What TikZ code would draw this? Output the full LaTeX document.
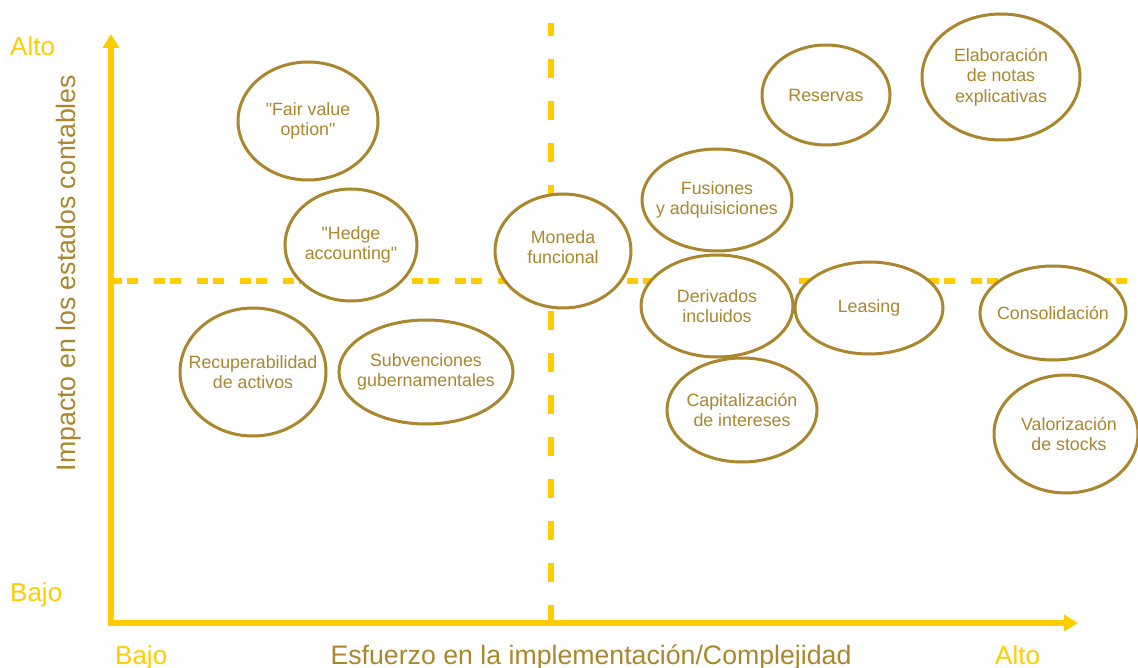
\documentclass[tikz,border=0pt]{standalone}
\usepackage{fontspec}
\newfontfamily\af{Liberation Sans}
\usetikzlibrary{shapes.geometric,arrows.meta}
\definecolor{gold}{RGB}{255,204,0}
\definecolor{brn}{RGB}{170,134,46}
\begin{document}
\begin{tikzpicture}[x=1pt,y=-1pt,
  bub/.style={ellipse, draw=brn, line width=3pt, fill=white, inner sep=0pt},
  btxt/.style={text=brn, align=center, inner sep=0pt, font=\af\fontsize{17.8}{20.5}\selectfont},
  axlab/.style={text=gold, font=\af\fontsize{26}{30}\selectfont, inner sep=0pt, anchor=base west},
  ttl/.style={text=brn, font=\af\fontsize{26.7}{30}\selectfont, inner sep=0pt},
  quad/.style={draw=gold, line width=6pt}]
\useasboundingbox (0,0) rectangle (1138,668);

% quadrant dashed lines
\coordinate (vtop) at (551,23);
\coordinate (vbot) at (551,623);
\coordinate (hl) at (111,281);
\coordinate (hr) at (1138,281);
\draw[quad, dash pattern=on 19pt off 23pt, dash phase=6pt] (vtop) -- (vbot);
\draw[quad, dash pattern=on 11pt off 5pt on 11pt off 16pt] (hl) -- (hr);

% axes
\coordinate (O) at (111,623);
\coordinate (ytip) at (111,34);
\coordinate (xtip) at (1078,623);
\draw[quad, line join=miter, {Triangle[width=16pt,length=14pt]}-{Triangle[width=16pt,length=14pt]}] (ytip) -- (O) -- (xtip);

% axis labels
\node[axlab] (yalto) at (10,56) {Alto};
\node[axlab] (ybajo) at (10,601) {Bajo};
\node[axlab] (xbajo) at (115,664) {Bajo};
\node[axlab] (xalto) at (995,664) {Alto};
\node[ttl, anchor=base] (xt) at (591,664) {Esfuerzo en la implementación/Complejidad};
\node[ttl, rotate=90, anchor=base] (yt) at (75,273) {Impacto en los estados contables};

% bubbles
\node[bub, minimum width=140pt, minimum height=118pt] (fv) at (308,121) {};
\node[btxt] (fvt) at (fv.center) {"Fair value\\option"};
\node[bub, minimum width=132pt, minimum height=112pt] (ha) at (351,245) {};
\node[btxt] (hat) at (ha.center) {"Hedge\\accounting"};
\node[bub, minimum width=146pt, minimum height=128pt] (ra) at (253,372) {};
\node[btxt] (rat) at (ra.center) {Recuperabilidad\\de activos};
\node[bub, minimum width=174pt, minimum height=104pt] (sg) at (426,372) {};
\node[btxt] (sgt) at (sg.center) {Subvenciones\\gubernamentales};
\node[bub, minimum width=136pt, minimum height=114pt] (mf) at (563,251) {};
\node[btxt] (mft) at ([yshift=4pt]mf.center) {Moneda\\funcional};
\node[bub, minimum width=128pt, minimum height=100pt] (re) at (826,95) {};
\node[btxt] (ret) at (re.center) {Reservas};
\node[bub, minimum width=158pt, minimum height=126pt] (en) at (1001,77) {};
\node[btxt] (ent) at (en.center) {Elaboración\\de notas\\explicativas};
\node[bub, minimum width=150pt, minimum height=102pt] (fa) at (717,200) {};
\node[btxt] (fat) at (fa.center) {Fusiones\\y adquisiciones};
\node[bub, minimum width=152pt, minimum height=102pt] (di) at (717,306) {};
\node[btxt] (dit) at (di.center) {Derivados\\incluidos};
\node[bub, minimum width=148pt, minimum height=92pt] (le) at (869,308) {};
\node[btxt] (let) at (le.center) {Leasing};
\node[bub, minimum width=150pt, minimum height=104pt] (ci) at (742,410) {};
\node[btxt] (cit) at (ci.center) {Capitalización\\de intereses};
\node[bub, minimum width=146pt, minimum height=94pt] (co) at (1053,313) {};
\node[btxt] (cot) at (co.center) {Consolidación};
\node[bub, minimum width=144pt, minimum height=118pt] (vs) at (1066,434) {};
\node[btxt] (vst) at ([xshift=3pt]vs.center) {Valorización\\de stocks};
\end{tikzpicture}
\end{document}
